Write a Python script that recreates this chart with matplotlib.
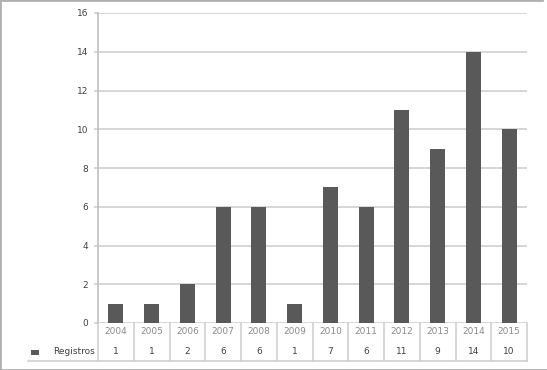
import matplotlib.pyplot as plt
import matplotlib.transforms as mtransforms
from matplotlib.patches import Rectangle
from matplotlib.lines import Line2D
import numpy as np

# --- Dados ---
anos = ["2004", "2005", "2006", "2007", "2008", "2009",
        "2010", "2011", "2012", "2013", "2014", "2015"]
registros = [1, 1, 2, 6, 6, 1, 7, 6, 11, 9, 14, 10]
rotulo_serie = "Registros"
ticks_y = [0, 2, 4, 6, 8, 10, 12, 14, 16]

cor_barra = "#595959"
cor_grade = "#d0d0d0"
cor_texto = "#404040"

W, H = 547, 370
fig = plt.figure(figsize=(W / 100, H / 100), dpi=100)
fig.patch.set_facecolor("white")

# eixo: esquerda 98px, direita 527px, topo 13px, base 323px
ax = fig.add_axes([98 / W, (H - 323) / H, (527 - 98) / W, (323 - 13) / H])

x = np.arange(len(anos))
ax.bar(x, registros, width=0.42, color=cor_barra, zorder=3)

ax.set_xlim(-0.5, len(anos) - 0.5)
ax.set_ylim(0, 16)
ax.set_yticks(ticks_y)
ax.set_yticklabels([str(t) for t in ticks_y], fontsize=6.5, color=cor_texto)
ax.tick_params(axis="y", length=3, color=cor_grade, width=1.2, pad=4)
ax.set_xticks([])
ax.grid(axis="y", color=cor_grade, linewidth=1.2, zorder=0)

for lado in ["top", "right", "bottom"]:
    ax.spines[lado].set_visible(False)
ax.spines["left"].set_color("#c0c0c0")
ax.spines["left"].set_linewidth(1.2)

# --- Tabela de dados abaixo do gráfico ---
trans = mtransforms.blended_transform_factory(ax.transData, ax.transAxes)
px = 1 / (323 - 13)  # um pixel em fração do eixo
y_anos = -9 * px
y_vals = -29 * px
y_fundo = -38 * px

for i, (ano, v) in enumerate(zip(anos, registros)):
    ax.text(i, y_anos, ano, transform=trans, ha="center", va="center",
            fontsize=6.5, color="#8a8a8a")
    ax.text(i, y_vals, str(v), transform=trans, ha="center", va="center",
            fontsize=6.5, color=cor_texto)

for b in np.arange(-0.5, len(anos), 1.0):
    ax.plot([b, b], [0, y_fundo], transform=trans, color=cor_grade,
            linewidth=1.2, clip_on=False)

# linha inferior da tabela, que se estende sob o rótulo da série
trans_fig = mtransforms.blended_transform_factory(fig.transFigure, ax.transAxes)
ax.plot([28 / W, 527 / W], [y_fundo, y_fundo], transform=trans_fig,
        color=cor_grade, linewidth=1.2, clip_on=False)

# marcador da legenda + rótulo
ax.add_patch(Rectangle((31 / W, y_vals - 2.5 * px), 8 / W, 5 * px,
                       transform=trans_fig, facecolor=cor_barra,
                       edgecolor="none", clip_on=False))
ax.text(95 / W, y_vals, rotulo_serie, transform=trans_fig, ha="right",
        va="center", fontsize=6.5, color=cor_texto)

# borda externa (esquerda, topo e base)
borda = dict(transform=fig.transFigure, color="#b0b0b0", linewidth=2)
fig.add_artist(Line2D([0, 0], [0, 1], **borda))
fig.add_artist(Line2D([0, 0.99], [1, 1], **borda))
fig.add_artist(Line2D([0, 1], [0, 0], **borda))

fig.savefig("out.png", dpi=100)
